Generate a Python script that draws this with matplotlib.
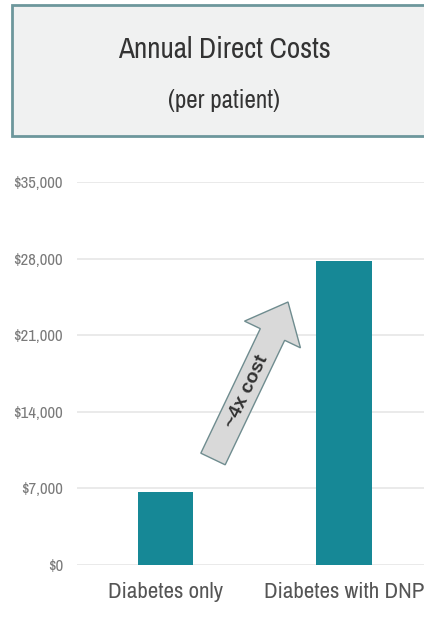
import matplotlib
matplotlib.use("Agg")
import matplotlib.pyplot as plt
import matplotlib.patches as mpatches
from matplotlib import font_manager
from matplotlib.ticker import FuncFormatter
import numpy as np

# ======================== DATA ========================
categories = ["Diabetes only", "Diabetes with DNP"]
annual_cost = [6700, 27800]
y_ticks = [0, 7000, 14000, 21000, 28000, 35000]

# ======================== STYLE ========================
# prefer an Arial-Narrow-like face, fall back to whatever condensed face exists
installed = {f.name for f in font_manager.fontManager.ttflist}
preferred = ["Liberation Sans Narrow", "Arial Narrow", "Archivo Narrow",
             "Roboto Condensed", "Asap Condensed"]
narrow = [n for n in preferred if n in installed]
FAMILY = narrow[:1] + ["Liberation Sans", "DejaVu Sans"]
plt.rcParams["font.family"] = FAMILY

bar_color = "#168896"
grid_color = "#e6e6e6"
tick_color = "#7a7a7a"
label_color = "#555555"

W, H = 424, 618
fig = plt.figure(figsize=(W / 100, H / 100), dpi=100)

# header box with the title
fig.patches.append(mpatches.Rectangle((12 / W, 1 - 136 / H), 1.0, 131 / H,
                                      transform=fig.transFigure, facecolor="#f0f1f1",
                                      edgecolor="#6d979c", linewidth=2.0))
fig.text(224 / W, 1 - 50 / H, "Annual Direct Costs", ha="center", va="center",
         fontsize=21, color="#333333")
fig.text(224 / W, 1 - 101 / H, "(per patient)", ha="center", va="center",
         fontsize=18, color="#333333")

# ======================== BAR CHART ========================
ax = fig.add_axes([77 / W, 53 / H, 1 - 77 / W, (565 - 182) / H])
x = np.arange(len(categories))
ax.bar(x, annual_cost, width=0.31, color=bar_color, zorder=3)

ax.set_ylim(0, 35000)
ax.set_xlim(-0.496, 1.448)
ax.set_yticks(y_ticks)
ax.yaxis.set_major_formatter(FuncFormatter(lambda v, p: f"${v:,.0f}"))
ax.set_xticks(x)
ax.set_xticklabels(categories)
ax.tick_params(axis="y", length=0, pad=10, labelsize=12, labelcolor=tick_color)
ax.tick_params(axis="x", length=0, pad=12, labelsize=16.5, labelcolor=label_color)
ax.grid(axis="y", color=grid_color, linewidth=1.2, zorder=0)
for s in ax.spines.values():
    s.set_visible(False)

# "~4x cost" arrow, built in pixel space then mapped to figure fraction
tail = np.array([213.0, 459.0])
tip = np.array([288.0, 302.0])
d = (tip - tail) / np.linalg.norm(tip - tail)
n = np.array([-d[1], d[0]])
shaft_w, head_w, head_len = 27.0, 62.0, 36.0
neck = tip - d * head_len
pts = [tail + n * shaft_w / 2, neck + n * shaft_w / 2, neck + n * head_w / 2, tip,
       neck - n * head_w / 2, neck - n * shaft_w / 2, tail - n * shaft_w / 2]
pts = [(p[0] / W, 1 - p[1] / H) for p in pts]
fig.patches.append(mpatches.Polygon(pts, closed=True, transform=fig.transFigure,
                                    facecolor="#d9d9d9", edgecolor="#6f8c8f",
                                    linewidth=1.0, zorder=5))
angle = np.degrees(np.arctan2(-(tip[1] - tail[1]), tip[0] - tail[0]))
fig.text(247 / W, 1 - 392 / H, "~4x cost", rotation=angle, rotation_mode="anchor",
         ha="center", va="center", fontsize=14, fontweight="bold", color="#333333",
         family=["Liberation Sans", "DejaVu Sans"], zorder=6)

fig.savefig("out.png", dpi=100)
